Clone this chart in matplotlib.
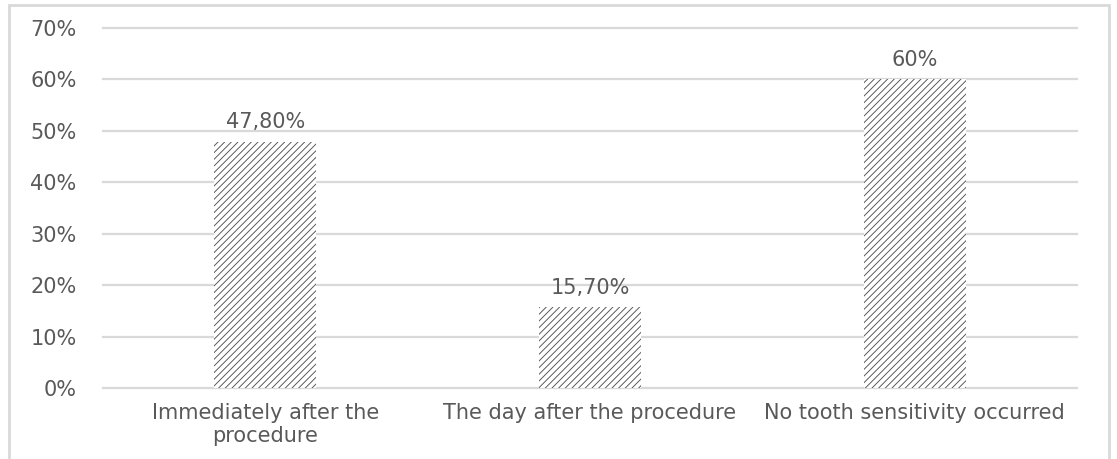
import matplotlib.pyplot as plt
from matplotlib.patches import Rectangle

categories = ["Immediately after the\nprocedure",
              "The day after the procedure",
              "No tooth sensitivity occurred"]
values = [47.8, 15.7, 60.0]
value_labels = ["47,80%", "15,70%", "60%"]
y_ticks = [0, 10, 20, 30, 40, 50, 60, 70]

text_color = "#595959"
grid_color = "#d9d9d9"

plt.rcParams['font.family'] = ['DejaVu Sans']
plt.rcParams['hatch.linewidth'] = 0.65

fig = plt.figure(figsize=(11.17, 4.59), dpi=100)
ax = fig.add_axes([103 / 1117, 1 - 388 / 459, 974 / 1117, 360 / 459])

x = list(range(len(categories)))
ax.bar(x, values, width=0.315, color="white", edgecolor="#505050",
       linewidth=0, hatch="/////", zorder=3)

for xi, v, lab in zip(x, values, value_labels):
    ax.annotate(lab, (xi, v), xytext=(0, 7), textcoords="offset points",
                ha="center", va="bottom", fontsize=15, color=text_color)

ax.set_xlim(-0.5, 2.5)
ax.set_ylim(0, 70)
ax.set_yticks(y_ticks)
ax.set_yticklabels([f"{t}%" for t in y_ticks])
ax.set_xticks(x)
ax.set_xticklabels(categories, linespacing=1.15)
ax.yaxis.grid(True, color=grid_color, linewidth=1.6, zorder=0)
for gl in ax.get_ygridlines():
    gl.set_clip_on(False)
ax.set_axisbelow(True)
for s in ax.spines.values():
    s.set_visible(False)
ax.tick_params(axis="both", length=0, labelsize=15, colors=text_color)
ax.tick_params(axis="y", pad=19)
ax.tick_params(axis="x", pad=11)

# chart area frame
fig.patches.append(Rectangle((9 / 1117, -0.05), 1100 / 1117, 1.05 - 5 / 459,
                             transform=fig.transFigure, fill=False,
                             edgecolor=grid_color, linewidth=2))

fig.savefig("out.png", dpi=100)
